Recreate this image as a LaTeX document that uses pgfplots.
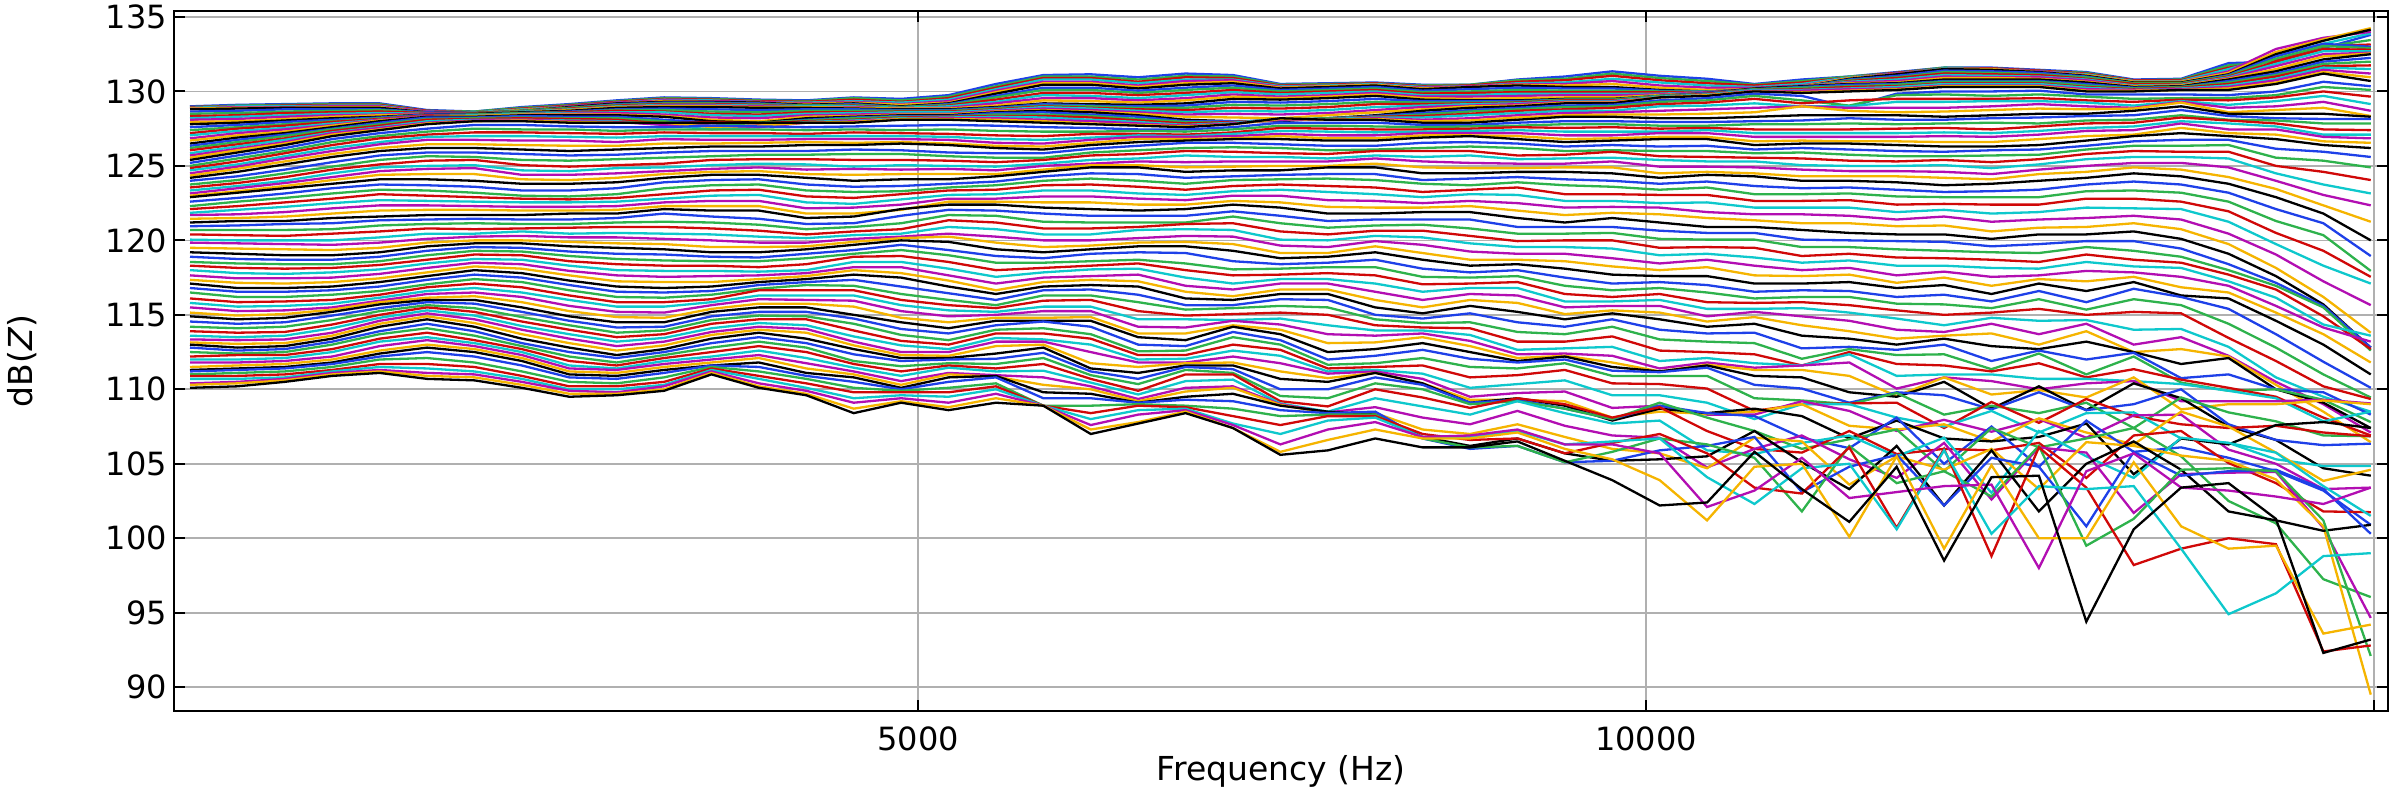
\documentclass[border=0pt]{standalone}
\usepackage{pgfplots}
\usepackage{pgfplotstable}
\pgfplotsset{compat=1.18}
\usepackage{fontspec}
\setmainfont{DejaVu Sans}
\definecolor{qb}{RGB}{30,64,232}
\definecolor{qg}{RGB}{46,178,76}
\definecolor{qr}{RGB}{208,8,8}
\definecolor{qc}{RGB}{14,200,204}
\definecolor{qm}{RGB}{178,14,178}
\definecolor{qy}{RGB}{245,180,0}
\definecolor{grd}{RGB}{176,176,176}
\pgfplotstableread[header=false]{
129 129.1 129.15 129.2 129.2 128.75 128.65 128.95 129.15 129.4 129.6 129.55 129.45 129.4 129.6 129.5 129.75 130.5 131.1 131.15 130.95 131.2 131.1 130.5 130.55 130.6 130.45 130.45 130.8 131 131.35 131.05 130.85 130.5 130.8 131 131.3 131.6 131.6 131.45 131.3 130.8 130.85 131.9 132 132.9 133.8
128.95 129.05 129.1 129.15 129.15 128.7 128.65 128.9 129.1 129.35 129.55 129.5 129.4 129.35 129.55 129.4 129.65 130.35 131 131 130.8 131.05 131 130.45 130.5 130.55 130.4 130.45 130.75 130.85 131.2 130.9 130.7 130.45 130.7 131 131.25 131.6 131.55 131.4 131.25 130.75 130.8 131.75 132 133 133.45
128.95 129 129.05 129.1 129.1 128.7 128.6 128.85 129.05 129.3 129.5 129.45 129.35 129.3 129.45 129.3 129.55 130.25 130.9 130.9 130.65 130.95 130.9 130.4 130.45 130.55 130.35 130.4 130.65 130.75 131.05 130.75 130.55 130.4 130.6 130.95 131.25 131.55 131.55 131.4 131.2 130.75 130.75 131.6 132.1 133.05 133.15
128.9 129 129 129.05 129.05 128.65 128.6 128.8 129 129.25 129.45 129.4 129.3 129.25 129.35 129.25 129.45 130.15 130.8 130.8 130.55 130.8 130.8 130.35 130.4 130.5 130.3 130.35 130.55 130.6 130.85 130.6 130.4 130.3 130.5 130.95 131.2 131.55 131.5 131.35 131.15 130.7 130.7 131.5 132.4 133.2 133.9
128.85 128.95 128.95 129 129 128.65 128.55 128.75 129 129.25 129.4 129.35 129.3 129.2 129.3 129.15 129.35 130.05 130.65 130.65 130.4 130.7 130.75 130.3 130.35 130.45 130.25 130.35 130.5 130.5 130.7 130.4 130.25 130.25 130.4 130.9 131.2 131.5 131.5 131.35 131.1 130.65 130.65 131.35 132.85 133.6 134
128.85 128.9 128.9 128.95 128.95 128.6 128.55 128.75 128.95 129.2 129.35 129.3 129.25 129.15 129.25 129.1 129.25 129.95 130.55 130.55 130.3 130.55 130.65 130.25 130.35 130.45 130.2 130.3 130.45 130.4 130.5 130.25 130.1 130.15 130.35 130.9 131.15 131.5 131.5 131.3 131.1 130.65 130.65 131.25 132.65 133.5 134.25
128.8 128.85 128.9 128.9 128.9 128.6 128.55 128.7 128.95 129.2 129.3 129.3 129.25 129.1 129.2 129 129.2 129.85 130.45 130.45 130.2 130.45 130.55 130.2 130.3 130.4 130.15 130.3 130.4 130.3 130.3 130.1 130 130.1 130.3 130.85 131.15 131.5 131.45 131.3 131.05 130.6 130.6 131.15 132.5 133.4 134.15
128.65 128.7 128.8 128.8 128.8 128.6 128.55 128.7 128.9 129.15 129.25 129.25 129.2 129.05 129.15 128.95 129.15 129.7 130.25 130.25 130.05 130.25 130.4 130.1 130.2 130.3 130.05 130.15 130.25 130.2 130.2 130.05 130 130.1 130.3 130.8 131.05 131.4 131.35 131.25 131 130.55 130.55 131.1 132.35 133.2 133
128.5 128.55 128.65 128.7 128.75 128.55 128.55 128.7 128.9 129.1 129.2 129.2 129.15 129.05 129.1 128.95 129.1 129.6 130.1 130.1 129.9 130.1 130.25 130 130.1 130.2 129.95 130 130.1 130.05 130.05 130 130 130.1 130.3 130.75 130.95 131.3 131.25 131.15 130.95 130.55 130.55 131.05 132.2 133.05 132.9
128.35 128.4 128.55 128.6 128.65 128.55 128.55 128.65 128.85 129.05 129.15 129.15 129.1 129 129.05 128.9 129.05 129.45 129.9 129.9 129.75 129.9 130.1 129.9 130 130.1 129.85 129.9 129.95 129.95 129.95 129.95 129.95 130.15 130.3 130.7 130.9 131.2 131.15 131.1 130.85 130.5 130.5 131 132 132.85 132.8
128.2 128.3 128.4 128.5 128.55 128.5 128.5 128.65 128.8 129 129.1 129.1 129.05 129 129 128.9 129 129.3 129.75 129.7 129.55 129.75 129.95 129.8 129.9 130 129.75 129.75 129.85 129.85 129.85 129.85 129.95 130.15 130.35 130.65 130.8 131.1 131.05 131 130.8 130.4 130.45 130.95 131.85 132.7 132.7
128.1 128.15 128.3 128.4 128.45 128.5 128.5 128.6 128.75 128.95 129.05 129.05 129 128.95 128.95 128.85 128.9 129.2 129.55 129.55 129.4 129.55 129.8 129.65 129.75 129.9 129.65 129.65 129.7 129.75 129.75 129.8 129.95 130.15 130.35 130.6 130.7 131 130.95 130.95 130.75 130.35 130.4 130.9 131.7 132.5 132.6
127.95 128 128.15 128.3 128.4 128.45 128.5 128.6 128.75 128.95 129 129 128.95 128.95 128.9 128.85 128.85 129.05 129.4 129.35 129.25 129.4 129.65 129.55 129.65 129.8 129.55 129.5 129.55 129.6 129.6 129.75 129.9 130.2 130.35 130.55 130.6 130.9 130.9 130.85 130.65 130.35 130.4 130.85 131.5 132.35 132.55
127.8 127.9 128.05 128.2 128.3 128.45 128.5 128.6 128.7 128.9 128.95 128.95 128.9 128.9 128.85 128.8 128.8 128.95 129.2 129.15 129.1 129.2 129.5 129.45 129.55 129.7 129.45 129.4 129.4 129.5 129.5 129.7 129.9 130.2 130.35 130.5 130.55 130.8 130.8 130.8 130.6 130.3 130.35 130.8 131.35 132.15 132.5
127.6 127.75 127.95 128.1 128.25 128.45 128.45 128.55 128.65 128.8 128.85 128.8 128.75 128.8 128.8 128.75 128.75 128.9 129.15 129.05 129 129.05 129.3 129.25 129.35 129.5 129.35 129.35 129.35 129.45 129.45 129.7 129.9 130.15 130.3 130.45 130.5 130.7 130.7 130.7 130.5 130.25 130.3 130.7 131.2 132 132.25
127.4 127.6 127.8 128 128.2 128.4 128.45 128.55 128.6 128.75 128.75 128.65 128.6 128.7 128.7 128.7 128.7 128.85 129.05 129 128.9 128.9 129.1 129.05 129.15 129.3 129.25 129.25 129.3 129.45 129.45 129.7 129.85 130.15 130.25 130.35 130.45 130.65 130.65 130.65 130.4 130.2 130.3 130.6 131.1 131.85 132
127.2 127.5 127.7 127.95 128.15 128.4 128.4 128.5 128.6 128.7 128.65 128.5 128.45 128.6 128.6 128.65 128.65 128.8 129 128.9 128.8 128.75 128.9 128.85 128.95 129.15 129.15 129.2 129.25 129.4 129.4 129.65 129.85 130.1 130.15 130.3 130.35 130.55 130.55 130.55 130.3 130.15 130.25 130.5 131 131.7 131.75
127.05 127.35 127.55 127.85 128.1 128.35 128.4 128.5 128.55 128.6 128.6 128.4 128.35 128.5 128.55 128.6 128.6 128.75 128.95 128.85 128.7 128.6 128.7 128.65 128.75 128.95 129.05 129.15 129.2 129.35 129.35 129.65 129.8 130.1 130.1 130.2 130.3 130.5 130.5 130.5 130.25 130.1 130.2 130.4 130.85 131.6 131.5
126.85 127.2 127.45 127.75 128.1 128.35 128.35 128.45 128.5 128.55 128.45 128.25 128.2 128.4 128.45 128.5 128.5 128.7 128.85 128.75 128.6 128.45 128.5 128.45 128.55 128.75 128.95 129.05 129.15 129.3 129.3 129.6 129.75 130.05 130.05 130.15 130.2 130.4 130.4 130.4 130.15 130.1 130.15 130.3 130.75 131.45 131.2
126.7 127.05 127.3 127.7 128.05 128.3 128.35 128.45 128.45 128.45 128.35 128.1 128 128.3 128.35 128.45 128.45 128.65 128.75 128.65 128.5 128.3 128.25 128.2 128.4 128.6 128.8 129 129.05 129.25 129.25 129.6 129.75 130 129.95 130.05 130.15 130.35 130.35 130.35 130.05 130.05 130.1 130.2 130.6 131.3 130.95
126.5 126.9 127.2 127.6 128 128.3 128.3 128.4 128.4 128.4 128.3 128 127.9 128.2 128.3 128.4 128.4 128.6 128.7 128.6 128.4 128.1 128 128 128.2 128.4 128.7 128.9 129 129.2 129.2 129.6 129.7 130 129.9 130 130.1 130.3 130.3 130.3 130 130 130.1 130.1 130.5 131.2 130.7
126.35 126.75 127.1 127.5 127.9 128.25 128.25 128.35 128.3 128.3 128.1 127.9 127.85 128.1 128.25 128.35 128.35 128.55 128.6 128.45 128.3 128 128 128.05 128.2 128.35 128.55 128.75 128.9 129.05 129.1 129.4 129.55 129.85 129.7 128.95 129.85 130 130 130.05 129.8 129.8 129.8 129.75 130 130.65 130.35
126.2 126.6 127 127.45 127.8 128.15 128.2 128.25 128.2 128.2 128 127.7 127.9 128.05 128.2 128.3 128.3 128.45 128.45 128.35 128.15 127.95 127.95 128.1 128.2 128.3 128.45 128.65 128.8 128.95 129 129.3 129.4 129.7 129.4 129.05 129.75 129.8 129.7 129.8 129.65 129.5 129.55 129.55 129.75 130.3 130.1
126.05 126.45 126.85 127.35 127.7 128.1 128.15 128.2 128.15 128.1 127.85 127.95 127.85 128 128.1 128.25 128.3 128.35 128.35 128.25 128.05 127.85 127.95 128.1 128.15 128.3 128.35 128.5 128.7 128.8 128.9 129.15 129.25 129.5 129.2 129.4 129.5 129.5 129.5 129.55 129.4 129.3 129.45 129.4 129.6 130 129.65
125.85 126.3 126.75 127.25 127.6 128 128.1 128.1 128.05 128 127.75 127.45 127.6 127.95 128.05 128.2 128.25 128.3 128.25 128.1 127.95 127.75 127.9 128.15 128.15 128.25 128.25 128.4 128.55 128.7 128.7 129 129.05 129.2 129 129 129.3 129.3 129.35 129.35 129.25 129.05 129.35 129.1 129.35 129.7 129.15
125.7 126.15 126.6 127.2 127.55 127.9 128.05 128.1 128 127.95 127.75 127.7 127.6 127.9 128 128.15 128.2 128.2 128.1 128 127.85 127.7 127.85 128.1 128.1 128.2 128.1 128.2 128.4 128.55 128.6 128.7 128.8 128.9 129 128.9 128.9 128.9 129 129.15 129 128.9 129.3 128.9 129 129.3 128.7
125.55 126.05 126.5 127.1 127.45 127.85 128 128.05 127.95 127.9 127.9 127.6 127.7 127.9 127.95 128.15 128.15 128.1 128 127.85 127.75 127.65 127.8 128.15 128.1 128.15 128 128.05 128.25 128.4 128.45 128.45 128.5 128.6 129 128.7 128.6 128.65 128.75 128.85 128.8 128.85 129.25 128.6 128.75 128.9 128.35
125.4 125.9 126.4 127 127.4 127.8 128 128 127.9 127.9 127.9 127.9 127.9 127.9 127.9 128.1 128.1 128 127.9 127.8 127.7 127.6 127.8 128.2 128.1 128.1 127.9 127.9 128.1 128.3 128.3 128.2 128.2 128.3 128.4 128.4 128.4 128.3 128.4 128.5 128.5 128.7 129 128.5 128.5 128.5 128.3
125.2 125.7 126.2 126.8 127.2 127.5 127.75 127.75 127.65 127.6 127.6 127.7 127.65 127.6 127.65 127.7 127.75 127.7 127.6 127.55 127.45 127.45 127.6 127.9 127.9 127.9 127.75 127.75 127.9 128 128 127.95 127.95 128 128.05 128.2 128.1 128.1 128.2 128.25 128.35 128.4 128.75 128.35 128.2 128.15 128.15
125 125.5 126 126.6 127 127.3 127.5 127.45 127.45 127.35 127.45 127.45 127.45 127.4 127.45 127.4 127.45 127.35 127.3 127.3 127.35 127.3 127.45 127.7 127.7 127.65 127.6 127.65 127.7 127.8 127.8 127.7 127.7 127.8 127.8 127.85 127.8 127.85 127.9 127.85 128.05 128.1 128.4 128.1 128.05 127.85 127.85
124.85 125.3 125.85 126.4 126.85 127.1 127.25 127.25 127.2 127.15 127.25 127.2 127.2 127.15 127.25 127.2 127.15 127.05 127 127.15 127.15 127.1 127.25 127.55 127.5 127.45 127.45 127.5 127.6 127.55 127.6 127.5 127.55 127.45 127.45 127.45 127.5 127.55 127.45 127.65 127.85 127.9 128.25 128.05 127.85 127.45 127.4
124.7 125.1 125.65 126.2 126.6 126.95 127 127 126.95 126.9 127 127 127 127 127 127 126.95 126.8 126.75 126.9 127.05 127 127.15 127.35 127.3 127.25 127.3 127.35 127.4 127.3 127.3 127.3 127.4 127.2 127.2 127.2 127.2 127.25 127.2 127.35 127.55 127.65 128 127.85 127.65 127.1 127.1
124.5 124.95 125.5 126 126.45 126.75 126.75 126.7 126.7 126.6 126.8 126.75 126.75 126.8 126.8 126.8 126.75 126.55 126.5 126.75 126.95 126.95 127 127.15 127.05 127.05 127.2 127.2 127.2 127.05 127.05 127.2 127.2 126.95 126.95 126.95 126.95 127 126.95 127.1 127.35 127.4 127.85 127.45 127.45 126.95 126.85
124.35 124.8 125.3 125.8 126.2 126.45 126.45 126.4 126.35 126.35 126.5 126.5 126.55 126.6 126.55 126.6 126.5 126.35 126.3 126.55 126.8 126.8 126.85 127 126.85 126.85 127.05 127.05 127 126.8 126.85 126.95 126.95 126.65 126.7 126.65 126.65 126.6 126.6 126.8 127 127.1 127.55 127.2 127.1 126.65 126.55
124.2 124.6 125.1 125.6 126 126.2 126.2 126.1 126 126.1 126.2 126.3 126.3 126.4 126.4 126.5 126.4 126.2 126.1 126.4 126.6 126.7 126.8 126.8 126.7 126.7 126.9 127 126.8 126.6 126.7 126.8 126.8 126.4 126.5 126.5 126.4 126.3 126.3 126.4 126.7 127 127.2 127 126.8 126.4 126.2
124 124.3 124.75 125.25 125.7 125.9 125.9 125.8 125.7 125.75 125.9 126 126 126 126.1 126.05 125.9 125.85 125.85 126.15 126.35 126.55 126.55 126.45 126.35 126.35 126.55 126.6 126.5 126.3 126.4 126.3 126.35 126.1 126.2 126.1 126 125.95 126.05 126.1 126.35 126.65 126.75 126.75 126.15 125.95 125.6
123.75 124.05 124.5 124.95 125.4 125.65 125.6 125.4 125.35 125.45 125.55 125.65 125.75 125.75 125.8 125.8 125.65 125.55 125.55 125.9 126.05 126.2 126.25 126.2 126.05 126.1 126.2 126.3 126.2 126 126.05 126 126 125.85 125.9 125.75 125.65 125.65 125.7 125.75 126.1 126.35 126.35 126.4 125.55 125.35 124.9
123.55 123.85 124.25 124.75 125.1 125.35 125.4 125.05 124.95 125.05 125.15 125.4 125.45 125.45 125.4 125.4 125.35 125.25 125.4 125.7 125.8 126 125.95 125.85 125.8 126 126 126 125.7 125.75 125.95 125.65 125.6 125.55 125.5 125.35 125.3 125.4 125.25 125.45 125.8 126 125.95 125.95 125 124.6 124.05
123.35 123.65 124 124.5 124.9 125 125.05 124.7 124.65 124.85 124.9 125.05 125.15 125.1 124.95 125.05 125 124.95 125.15 125.4 125.5 125.7 125.6 125.6 125.5 125.7 125.6 125.7 125.45 125.5 125.55 125.4 125.3 125.3 125.05 125 125 125.05 124.85 125.1 125.45 125.6 125.6 125.5 124.5 123.75 123.15
123.15 123.5 123.85 124.25 124.65 124.8 124.85 124.4 124.4 124.5 124.65 124.8 124.9 124.75 124.8 124.75 124.8 124.7 125 125.15 125.3 125.25 125.3 125.3 125.3 125.5 125.3 125.2 125.15 125.15 125.3 124.95 124.95 124.9 124.75 124.65 124.65 124.6 124.45 124.75 125 125.2 125.2 124.9 124 123.05 122.35
123 123.3 123.65 124.05 124.4 124.45 124.45 124.1 124.05 124.2 124.45 124.6 124.65 124.45 124.4 124.45 124.45 124.45 124.75 125.05 125.05 124.9 124.95 125 125 125.15 124.9 124.85 124.85 124.9 124.9 124.5 124.6 124.5 124.3 124.3 124.3 124.2 124.1 124.45 124.6 124.9 124.75 124.25 123.45 122.35 121.25
122.9 123.2 123.5 123.8 124.1 124.1 124 123.8 123.8 123.9 124.2 124.4 124.4 124.2 124 124.1 124.1 124.3 124.6 124.9 124.9 124.6 124.7 124.7 124.9 124.9 124.5 124.5 124.6 124.6 124.5 124.2 124.4 124.3 124 124 123.9 123.7 123.8 124 124.2 124.5 124.3 123.8 122.9 121.8 120
122.6 122.85 123.15 123.5 123.75 123.7 123.6 123.35 123.35 123.5 123.9 124.05 124.1 123.75 123.6 123.65 123.8 123.95 124.3 124.5 124.45 124.2 124.3 124.4 124.45 124.45 124.05 124.15 124.25 124.1 124 123.8 123.95 123.65 123.5 123.55 123.4 123.25 123.3 123.4 123.75 123.95 123.75 123.2 122.1 121.15 118.95
122.3 122.6 122.85 123.15 123.4 123.35 123.2 123 122.95 123.1 123.5 123.7 123.75 123.35 123.25 123.3 123.55 123.7 124 124.15 124 123.8 124.05 124.1 124.15 124.05 123.8 123.7 123.9 123.7 123.6 123.4 123.55 123.1 123.1 123.15 122.95 122.9 122.9 122.9 123.3 123.35 123.2 122.6 121.3 120.35 117.95
122.1 122.3 122.55 122.8 123.1 123 122.9 122.8 122.75 122.85 123.1 123.35 123.4 122.95 122.85 123.1 123.35 123.4 123.7 123.75 123.6 123.4 123.65 123.75 123.65 123.55 123.25 123.4 123.55 123.1 123.1 123.05 123.05 122.65 122.65 122.7 122.4 122.45 122.4 122.4 122.8 122.8 122.6 121.95 120.5 119.3 117.55
121.85 122.05 122.25 122.5 122.7 122.65 122.6 122.55 122.55 122.6 122.8 123 123.05 122.55 122.45 122.75 123.05 123.1 123.35 123.35 123.15 123.05 123.3 123.4 123.25 123.1 122.9 123.1 123.05 122.65 122.65 122.5 122.55 122.2 122.2 122.2 121.9 122.05 121.8 121.9 122.2 122.15 122.1 121.25 119.75 118.3 117.1
121.7 121.75 121.9 122.15 122.35 122.35 122.3 122.25 122.25 122.3 122.55 122.65 122.65 122.15 122.2 122.4 122.8 122.8 122.95 122.95 122.8 122.7 123 123 122.7 122.65 122.5 122.65 122.5 122.2 122.25 122.2 121.9 121.75 121.75 121.65 121.4 121.6 121.25 121.4 121.5 121.65 121.4 120.45 119.05 117.25 115.65
121.45 121.5 121.6 121.8 122 122.05 122.05 122 122 122.05 122.3 122.3 122.3 121.8 121.8 122.05 122.6 122.6 122.55 122.55 122.4 122.4 122.65 122.55 122.25 122.2 122.2 122.3 122 121.7 121.85 121.75 121.5 121.35 121.15 121.15 120.95 121 120.6 120.85 120.9 121.15 120.75 119.75 118.15 116.2 113.8
121.2 121.3 121.3 121.5 121.6 121.7 121.7 121.7 121.8 121.8 122.1 122 122 121.5 121.6 122.1 122.4 122.4 122.2 122.1 122 122.1 122.4 122.2 121.8 121.8 121.9 121.9 121.5 121.2 121.5 121.2 120.9 120.9 120.7 120.5 120.4 120.4 120.1 120.4 120.4 120.6 120.1 119.1 117.6 115.7 112.8
120.95 121 121.1 121.15 121.35 121.4 121.45 121.4 121.4 121.5 121.8 121.6 121.45 121.1 121.15 121.65 122.05 122 121.8 121.65 121.65 121.65 121.95 121.65 121.3 121.4 121.4 121.4 120.9 120.9 120.9 120.65 120.5 120.5 120.05 120 119.95 119.9 119.6 119.75 119.95 119.95 119.45 118.4 117.15 115.6 112.8
120.7 120.7 120.7 120.75 121 121.1 121.15 121.1 121.1 121.2 121.25 121.2 121.05 120.75 120.9 121.15 121.7 121.65 121.25 121.2 121.2 121.2 121.6 121.15 120.85 121 121.05 120.8 120.45 120.45 120.5 120.1 120.05 120.05 119.55 119.55 119.4 119.3 119.2 119.15 119.55 119.3 118.9 118 116.95 115.5 112.6
120.4 120.35 120.3 120.45 120.6 120.8 120.75 120.8 120.85 120.9 120.9 120.8 120.65 120.4 120.6 120.75 121.35 121.2 120.8 120.8 120.9 121.1 121.15 120.6 120.4 120.65 120.65 120.3 119.95 120 120 119.5 119.55 119.5 118.95 119.1 118.85 118.8 118.7 118.55 119.05 118.7 118.5 117.7 116.7 114.9 112.7
120.05 120 120 120 120.2 120.45 120.45 120.6 120.45 120.5 120.45 120.4 120.25 120.15 120.35 120.45 120.9 120.75 120.4 120.4 120.7 120.75 120.7 120.05 120 120.3 120.2 119.8 119.55 119.55 119.45 119 119.1 118.85 118.5 118.65 118.3 118.3 118.15 118.1 118.55 118.25 118.15 117.25 116.15 114.35 113.6
119.85 119.8 119.75 119.7 119.85 120.1 120.25 120.3 120.2 120.2 120.1 120 119.85 119.85 120.1 120.25 120.45 120.25 120 120 120.15 120.3 120.25 119.65 119.55 119.95 119.7 119.25 119.1 119.1 118.8 118.45 118.7 118.3 118 118.15 117.65 117.9 117.55 117.65 117.95 117.85 117.55 116.95 115.6 114.15 113.2
119.5 119.45 119.4 119.35 119.5 119.85 120 120 119.9 119.8 119.75 119.55 119.55 119.6 119.9 120.15 120.25 119.85 119.55 119.65 119.85 119.9 119.75 119.15 119.15 119.6 119.15 118.7 118.7 118.6 118.25 118 118.2 117.65 117.6 117.7 117.15 117.5 116.95 117.4 117.25 117.55 116.85 116.5 115.15 113.7 111.8
119.2 119.1 119 119 119.2 119.6 119.8 119.8 119.6 119.5 119.4 119.2 119.2 119.4 119.7 120 119.9 119.4 119.2 119.4 119.6 119.6 119.3 118.8 118.9 119.2 118.7 118.3 118.4 118.1 117.7 117.6 117.6 117.1 117.1 117.2 116.8 117 116.4 117.1 116.6 117.2 116.3 116.1 114.6 113 111
118.9 118.75 118.7 118.7 118.9 119.3 119.55 119.5 119.25 119.1 119.05 118.9 118.85 119.1 119.35 119.7 119.35 118.95 118.8 119.1 119.2 119.15 118.6 118.4 118.5 118.7 118.1 117.85 118 117.5 117.1 117.2 117 116.55 116.65 116.6 116.2 116.35 115.9 116.6 115.85 116.75 116.2 115.4 113.7 111.85 110.1
118.55 118.45 118.4 118.4 118.6 119 119.3 119.25 118.95 118.75 118.65 118.6 118.6 118.8 119.1 119.35 119 118.5 118.5 118.6 118.7 118.45 118.05 118.1 118.2 118.2 117.55 117.5 117.6 116.95 116.65 116.8 116.5 116.1 116.2 116.2 115.75 115.7 115.45 116.05 115.35 116.05 115.65 114.4 112.8 111 109.45
118.3 118.15 118.1 118.15 118.35 118.7 119.05 119 118.6 118.4 118.3 118.3 118.2 118.4 118.9 118.95 118.55 118 118.15 118.3 118.45 118 117.65 117.7 117.8 117.65 117.05 117.1 117.2 116.4 116.2 116.4 115.85 115.8 115.85 115.65 115.3 115 115.15 115.4 115 115.2 115.1 113.45 111.9 110.2 109.35
118 117.8 117.75 117.85 118.05 118.45 118.75 118.7 118.3 118 117.95 117.95 117.9 118 118.55 118.55 118.1 117.55 117.85 118.05 118.1 117.5 117.1 117.4 117.4 117.1 116.55 116.8 116.8 115.9 115.9 116 115.4 115.4 115.45 115.15 114.75 114.3 114.8 114.6 114.65 114 114.05 112.85 110.8 109.5 108.5
117.65 117.45 117.45 117.5 117.75 118.15 118.5 118.4 117.95 117.65 117.55 117.6 117.65 117.8 118.2 118.2 117.65 117.1 117.5 117.6 117.7 116.95 116.7 117.1 117.1 116.55 116 116.4 116.3 115.5 115.6 115.6 114.9 115.2 114.9 114.6 114 113.85 114.4 113.7 114.4 113 113.5 112.25 110.5 109 107.1
117.35 117.15 117.1 117.2 117.45 117.85 118.25 118.1 117.65 117.25 117.2 117.2 117.4 117.6 118 117.8 117.3 116.65 117.2 117.35 117.25 116.55 116.25 116.7 116.7 116 115.5 116 115.8 115.05 115.3 115.15 114.55 114.85 114.3 113.9 113.4 113.6 113.75 113 113.9 112.5 112.7 112.2 110.3 108.5 106.45
117.1 116.8 116.8 116.9 117.2 117.6 118 117.8 117.3 116.9 116.8 116.9 117.2 117.4 117.7 117.5 116.9 116.4 116.9 117 116.9 116.1 116 116.4 116.4 115.5 115.1 115.6 115.2 114.7 115.1 114.7 114.2 114.4 113.6 113.4 113 113.4 112.9 112.7 113.2 112.5 111.7 112.1 110 109.1 107.4
116.8 116.55 116.55 116.65 116.9 117.35 117.7 117.5 117 116.55 116.5 116.6 117 117.2 117.35 116.9 116.45 116 116.65 116.7 116.35 115.65 115.65 116.05 116 115 114.75 115.1 114.5 114.2 114.7 114 113.75 113.8 112.75 112.85 112.65 113 111.9 112.6 112 112.45 110.75 111 110 109.8 108.3
116.5 116.2 116.2 116.35 116.6 117.05 117.4 117.2 116.65 116.2 116.15 116.35 116.75 117 116.95 116.4 116 115.65 116.3 116.3 115.85 115.35 115.45 115.6 115.5 114.7 114.45 114.5 113.85 113.7 114.2 113.35 113.2 113.1 112.05 112.7 112.3 112.35 111.35 112.4 111 112.2 110.45 109.9 110 109.3 107.8
116.1 115.85 115.9 116 116.35 116.85 117.1 116.85 116.3 115.85 115.85 116.05 116.65 116.65 116.65 116 115.65 115.45 115.95 116 115.25 114.95 115.05 115.15 115 114.3 114.15 114.1 113.2 113.2 113.55 112.6 112.5 112.35 111.6 112.5 111.7 111.6 111.2 111.75 110.8 111.35 110.65 110.1 109.5 108.1 106.9
115.8 115.55 115.6 115.75 116.15 116.6 116.8 116.5 116 115.55 115.55 115.85 116.3 116.3 116.3 115.65 115.3 115.2 115.55 115.55 114.7 114.7 114.65 114.75 114.3 113.95 113.95 113.65 112.65 112.75 112.85 111.9 112.1 111.75 111.6 112.35 110.9 111 111 110.7 110.7 110.55 110.35 109.9 109.4 107.85 108.5
115.5 115.25 115.3 115.5 115.95 116.4 116.5 116.2 115.6 115.2 115.15 115.65 116.05 116 115.95 115.25 114.9 115 115.25 115.25 114.2 114.15 114.6 114.35 113.7 113.6 113.75 113.25 112.35 112.4 112.25 111.4 111.8 111.45 111.6 111.8 110.05 110.8 110.55 110 110.4 110.55 109.2 109.2 109.2 109.3 109.05
115.15 114.95 115.05 115.35 115.85 116.15 116.25 115.85 115.25 114.85 114.8 115.4 115.75 115.75 115.55 114.8 114.5 114.8 114.8 114.85 113.75 113.75 114.3 114 113.1 113.15 113.5 112.9 112.1 112.25 111.8 111.2 111.65 111.3 111.3 110.9 109.55 110.8 109.65 109.95 109.45 110.8 108.65 109 109 109.25 109
114.9 114.7 114.8 115.2 115.7 116 116 115.5 114.9 114.5 114.5 115.2 115.5 115.5 115 114.5 114.1 114.6 114.6 114.6 113.5 113.3 114.2 113.7 112.5 112.7 113.1 112.5 111.9 112.2 111.5 111.2 111.6 110.9 110.8 109.8 109.5 110.5 108.7 110.2 108.6 110.4 109.4 107.5 106.6 104.7 104.2
114.55 114.4 114.5 114.95 115.45 115.85 115.75 115.2 114.6 114.15 114.2 114.9 115.2 115.2 114.75 114.05 113.75 114.3 114.55 114.2 113 112.9 113.85 113.3 112 112.25 112.65 112.05 111.8 112 111.25 111.15 111.45 110.3 110.05 109.1 109.8 109.6 108.65 109.8 108.6 109 110 107.65 106.6 106.25 106.35
114.2 114.1 114.2 114.65 115.25 115.65 115.45 114.85 114.3 113.8 113.95 114.65 114.95 114.9 114.4 113.65 113.3 114 114.1 113.7 112.55 112.6 113.5 113 111.65 111.75 112.1 111.5 111.4 111.75 110.9 110.9 110.9 109.4 109.25 109 109.75 108.3 108.9 108.4 109.1 107.4 109.45 108.45 107.85 106.9 106.85
113.9 113.8 113.85 114.35 115 115.5 115.2 114.55 114 113.5 113.7 114.4 114.7 114.7 113.95 113.25 113 113.75 113.75 113.4 112.3 112.3 113 112.65 111.4 111.5 111.6 110.8 110.95 111.3 110.4 110.35 110.05 108.55 109 109.05 109.1 107.4 109.15 107.75 109.35 108.2 107.65 107.4 107.55 107.1 106.85
113.6 113.5 113.6 114.1 114.8 115.3 114.95 114.25 113.7 113.2 113.45 114.1 114.45 114.3 113.55 112.95 112.7 113.45 113.35 113 112 112.05 112.6 112.25 111.2 111.3 111.05 110.1 110.35 110.6 109.6 109.6 109.1 108 109 109 108.1 107.5 108.55 107.1 108.4 108.45 106.7 106.4 105.3 104.85 104.85
113.35 113.3 113.35 113.8 114.6 115.1 114.7 114 113.4 112.9 113.2 113.85 114.2 114.05 113.2 112.5 112.5 113.2 113.2 112.5 111.8 111.8 112.2 111.75 111.05 111.2 110.7 109.5 109.75 109.85 108.75 108.9 108.3 108.3 109.2 108.55 107.2 107.95 107.15 108 106.75 108.25 108.3 105.95 105 103.3 103.4
113.15 113.05 113.1 113.6 114.4 114.9 114.45 113.7 113.1 112.6 112.95 113.65 114 113.8 112.95 112.3 112.25 112.9 113 111.75 111.5 111.75 111.8 111.2 110.75 111.1 110.4 109.3 109.3 109.2 108.1 108.5 108.35 108.5 109 107.55 107.3 107.65 106.5 108.05 107.1 106.3 108.5 107.5 105.75 103.85 104.6
113 112.8 112.9 113.4 114.2 114.7 114.2 113.4 112.8 112.3 112.7 113.4 113.8 113.4 112.7 112.1 112.1 112.4 112.8 111.4 111.1 111.6 111.6 110.7 110.5 111.1 110.4 109.1 109.4 108.9 107.9 108.7 108.4 108.7 108.2 106.7 107.9 106.7 106.5 106.8 107.7 104.3 106.7 106.3 107.6 107.8 107.4
112.8 112.6 112.7 113.2 113.9 114.4 113.9 113.1 112.5 112.1 112.5 113.1 113.5 113.1 112.35 111.9 112 112.05 112.45 111.2 110.7 111.5 111.35 110 110 110.8 110.3 109.1 109.3 108.7 108 108.9 108.4 108.2 106.75 106.05 108.1 105 107.5 104.8 107.9 105.8 106.1 105.4 104.5 103.2 100.9
112.5 112.4 112.5 113 113.7 114.1 113.6 112.9 112.2 111.8 112.3 112.8 113.2 112.8 111.9 111.55 111.75 111.7 112.1 110.95 110.35 111.3 111.1 109.55 109.4 110.4 110 109 109.2 108.7 108 109.1 108.1 107.2 106 106.65 107.3 104.5 107.4 106.1 106.7 107.4 105.5 102.5 101 97.25 96.05
112.2 112.3 112.3 112.7 113.4 113.8 113.3 112.7 111.9 111.6 112.1 112.5 112.9 112.5 111.7 111.2 111.6 111.4 111.7 110.7 109.9 111 111 109.2 108.85 110 109.45 108.75 109.4 109 108.1 108.8 107.2 106 105.75 107.2 105.65 106 105.9 106.4 104.05 106.9 107.2 105.05 103.7 101.8 101.75
112 112 112.1 112.5 113.2 113.5 113.1 112.5 111.6 111.4 111.9 112.2 112.6 112.1 111.45 110.9 111.45 111.2 111.25 110.45 109.65 110.55 110.65 109.05 108.5 109.4 108.85 108.3 109.2 108.4 107.7 107.9 105.9 105.65 106.4 106.9 105.5 106.75 103.05 107.2 105.5 104.05 106.75 106.4 105.75 103.5 101.5
111.8 111.8 111.9 112.2 112.9 113.3 112.9 112.3 111.4 111.3 111.7 112 112.3 111.75 111.2 110.55 111.1 110.95 110.8 110.2 109.35 110.1 110.2 109 108.45 108.8 108.1 107.65 108.55 107.55 106.9 106.75 104.75 106 106.9 105.3 104.05 106.4 102.6 106.1 105.75 101.7 104.3 104.4 104.45 100.7 94.65
111.5 111.6 111.7 112 112.6 113 112.7 112.1 111.2 111.1 111.5 111.8 112.1 111.4 111 110.3 111 110.85 110.3 110 109.2 109.85 110.1 108.95 108.4 108.4 107.3 107 107.65 106.8 106 105.7 104.7 106.75 106.5 103.6 105.5 104.6 106 103.3 106.45 106.2 105.55 105.2 103.95 100.8 89.5
111.3 111.4 111.5 111.8 112.4 112.8 112.5 111.9 111 110.9 111.3 111.6 111.8 111.1 110.8 110.1 110.8 110.9 109.8 109.7 109.1 109.5 109.7 108.9 108.5 108.3 106.8 106.2 106.7 105.7 105.2 105.3 105.5 107.2 105.1 103.3 106.2 102.2 105.9 101.8 105 106.5 104.6 101.8 101.2 100.5 100.9
111.2 111.3 111.4 111.7 112.2 112.5 112.2 111.6 110.8 110.7 111.1 111.6 111.5 110.9 110.5 110 110.5 110.8 109.4 109.4 109.1 109.3 109.2 108.6 108.4 108.5 106.7 106 106.2 105.1 105.2 105.9 106.2 106.8 103.1 104.8 105.6 102.2 105.4 104.8 100.8 105.8 104.2 104.5 104.6 103.3 100.3
111 111.1 111.2 111.5 112 112.1 111.8 111.2 110.5 110.4 110.8 111.5 111.2 110.7 110.1 109.9 110.1 110.4 108.9 108.9 109 108.9 108.7 108.2 108.3 108.3 106.7 106.1 106.2 105.1 105.8 106.7 106.3 105.4 101.8 106.2 103.7 104.5 102.8 106.2 99.5 101.3 104.6 104.7 104.5 101.2 92.1
110.9 110.9 111 111.3 111.7 111.7 111.5 110.9 110.2 110.2 110.5 111.4 110.9 110.4 109.8 109.8 109.8 110.2 108.9 108.4 108.9 108.8 108.2 107.6 108.2 108.2 107 106.6 106.7 105.7 106.4 107 105.7 103.4 103 106.1 100.7 106 98.8 106.1 103.4 98.2 99.3 100 99.6 92.4 92.8
110.7 110.7 110.8 111.2 111.5 111.4 111.2 110.7 110 110 110.3 111.3 110.7 110.1 109.4 109.6 109.5 110 108.9 108 108.6 108.7 107.7 107 107.9 108.1 106.8 106.8 107.2 106.3 106.5 106.7 104.1 102.3 104.7 105 100.6 105.9 100.3 103.5 103.3 103.5 99.3 94.9 96.3 98.8 99
110.4 110.5 110.7 111.1 111.3 111.1 111 110.5 109.9 109.8 110.2 111.2 110.4 109.9 109.1 109.4 109.1 109.7 108.9 107.6 108.3 108.6 107.6 106.3 107.3 107.8 106.8 106.9 107.3 106.3 106.3 105.7 102.1 103.2 105.4 102.7 103.1 103.5 103.6 98 104.5 105.7 103.4 103.2 102.8 102.3 103.4
110.3 110.4 110.6 111 111.2 110.9 110.8 110.3 109.7 109.7 110 111.1 110.2 109.7 108.7 109.2 108.8 109.4 108.9 107.3 107.8 108.5 107.4 105.8 106.6 107.3 106.7 106.7 107.1 106 105.3 103.9 101.2 104.8 105 100.1 105.5 99.3 104.9 100 100 105.1 100.8 99.3 99.5 93.6 94.2
110.1 110.2 110.5 110.9 111.1 110.7 110.6 110.1 109.5 109.6 109.9 111 110.1 109.6 108.4 109.1 108.6 109.1 108.9 107 107.7 108.4 107.4 105.6 105.9 106.7 106.1 106.1 106.5 105.2 103.9 102.2 102.4 105.8 103.3 101.1 104.8 98.5 104.1 104.2 94.4 100.6 103.4 103.7 101.3 92.3 93.2
}\raw
\pgfplotstabletranspose\data\raw
\begin{document}
\begin{tikzpicture}
\path[use as bounding box] (-87pt,-44.5pt) rectangle (1113pt,355.5pt);
\begin{axis}[at={(0pt,0pt)},anchor=south west,scale only axis,width=1107pt,height=350pt,
 xmin=-110,xmax=15096,ymin=88.4,ymax=135.4,
 xtick={5000,10000,15000},xticklabels={5000,10000,},ytick={90,95,...,135},
 scaled x ticks=false,
 tick align=inside,tick pos=both,major tick length=5.5pt,
 grid=major,grid style={color=grd,line width=0.85pt},
 axis line style={line width=1.1pt},tick style={black,line width=1pt},
 /pgf/number format/assume math mode=true,/pgf/number format/set thousands separator={},
 tick label style={font=\fontsize{16}{16}\selectfont},
 label style={font=\fontsize{16.5}{16.5}\selectfont},
 xlabel={Frequency (Hz)},ylabel={dB(\textit{Z})},
 xticklabel style={yshift=-4.5pt},
 xlabel style={yshift=5pt},
 ylabel style={yshift=27.5pt},
 cycle list={{color=qb},{color=qg},{color=qr},{color=qc},{color=qm},{color=qy},{color=black}},
 every axis plot/.append style={line width=1.15pt,mark=none}]
\pgfplotsinvokeforeach{1,...,91}{\addplot table[x expr=\coordindex*325.6,y index=#1]{\data};}
\end{axis}
\end{tikzpicture}
\end{document}
